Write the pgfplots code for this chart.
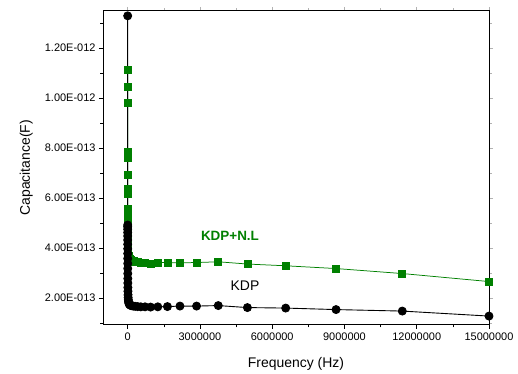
\documentclass[border=0pt]{standalone}
\usepackage{pgfplots}
\pgfplotsset{compat=1.18}
\usepackage{fontspec}
\setmainfont{Liberation Sans}
\definecolor{kdpgreen}{RGB}{0,128,0}

% Capacitance (F) against frequency (Hz)
\pgfplotstableread{
f        C
130      11.12e-13
175      10.45e-13
230      9.81e-13
300      7.85e-13
400      7.62e-13
530      6.93e-13
700      6.35e-13
920      6.15e-13
1200     5.55e-13
1600     5.25e-13
2100     4.95e-13
2800     4.70e-13
3700     4.50e-13
4900     4.32e-13
6400     4.18e-13
8500     4.06e-13
11200    3.96e-13
14800    3.88e-13
19500    3.81e-13
26000    3.75e-13
34000    3.70e-13
45000    3.66e-13
59000    3.62e-13
78000    3.58e-13
103000   3.55e-13
136000   3.52e-13
180000   3.50e-13
237000   3.48e-13
313000   3.46e-13
413000   3.44e-13
545000   3.42e-13
720000   3.40e-13
950000   3.38e-13
1250000  3.42e-13
1650000  3.42e-13
2170000  3.41e-13
2860000  3.42e-13
3760000  3.45e-13
4970000  3.36e-13
6560000  3.29e-13
8650000  3.18e-13
11400000 2.98e-13
15000000 2.66e-13
}\kdpnl

\pgfplotstableread{
f        C
100      13.28e-13
130      4.92e-13
175      4.85e-13
230      4.75e-13
300      4.62e-13
400      4.48e-13
530      4.32e-13
700      4.15e-13
920      3.97e-13
1200     3.78e-13
1600     3.58e-13
2100     3.38e-13
2800     3.18e-13
3700     2.98e-13
4900     2.78e-13
6400     2.60e-13
8500     2.42e-13
11200    2.27e-13
14800    2.13e-13
19500    2.02e-13
26000    1.93e-13
34000    1.86e-13
45000    1.81e-13
59000    1.77e-13
78000    1.74e-13
103000   1.72e-13
136000   1.70e-13
180000   1.69e-13
237000   1.68e-13
313000   1.67e-13
413000   1.66e-13
545000   1.65e-13
720000   1.65e-13
950000   1.64e-13
1250000  1.65e-13
1650000  1.66e-13
2170000  1.68e-13
2860000  1.68e-13
3760000  1.70e-13
4970000  1.62e-13
6560000  1.60e-13
8650000  1.54e-13
11400000 1.48e-13
15000000 1.28e-13
}\kdp

\pgfplotsset{
  frame/.style={
    scale only axis, width=386bp, height=314bp,
    xmin=-1025000, xmax=15000000,
    ymin=0.93e-13, ymax=1.348e-12,
    scaled ticks=false,
    xtick={0,3000000,6000000,9000000,12000000,15000000},
    minor xtick={1500000,4500000,7500000,10500000,13500000},
    ytick={2e-13,4e-13,6e-13,8e-13,1e-12,1.2e-12},
    minor ytick={1e-13,3e-13,5e-13,7e-13,9e-13,1.1e-12,1.3e-12},
    tick align=outside,
    major tick length=4bp, minor tick length=2.5bp,
  }
}

\begin{document}
\begin{tikzpicture}
% faint ticks on the top and right edges
\begin{axis}[frame,
  axis line style={draw=none},
  xtick pos=right, ytick pos=right,
  xticklabels={}, yticklabels={},
  tick style={gray!60, line width=0.5pt},
]
\end{axis}
\begin{axis}[frame, name=main,
  axis line style={line width=0.8pt},
  xtick pos=left, ytick pos=left,
  tick style={black, line width=0.6pt},
  xticklabels={0,3000000,6000000,9000000,12000000,15000000},
  yticklabels={2.00E-013,4.00E-013,6.00E-013,8.00E-013,1.00E-012,1.20E-012},
  tick label style={font=\fontsize{11}{13}\selectfont},
  xlabel={Frequency (Hz)}, ylabel={Capacitance(F)},
  label style={font=\fontsize{14}{16}\selectfont},
  xlabel style={at={(axis description cs:0.5,-0.124)}, anchor=center},
  ylabel style={at={(axis description cs:-0.199,0.5)}, anchor=center},
]
\addplot[kdpgreen, line width=0.75pt, mark=square*, mark size=3.5bp,
  mark options={solid, fill=kdpgreen, draw=kdpgreen}] table[x=f, y=C] {\kdpnl};
\addplot[black, line width=0.9pt, mark=*, mark size=4bp,
  mark options={solid, fill=black}] table[x=f, y=C] {\kdp};
\node[text=kdpgreen, font=\bfseries\fontsize{13.5}{15}\selectfont]
  at (axis cs:4247000,4.49e-13) {KDP+N.L};
\node[font=\fontsize{14}{16}\selectfont]
  at (axis cs:4870000,2.50e-13) {KDP};
\end{axis}
\path (main.south west) ++(-103bp,-49bp) coordinate (bbA);
\path (main.north east) ++(29bp,9bp) coordinate (bbB);
\path (bbA) rectangle (bbB);
\end{tikzpicture}
\end{document}
